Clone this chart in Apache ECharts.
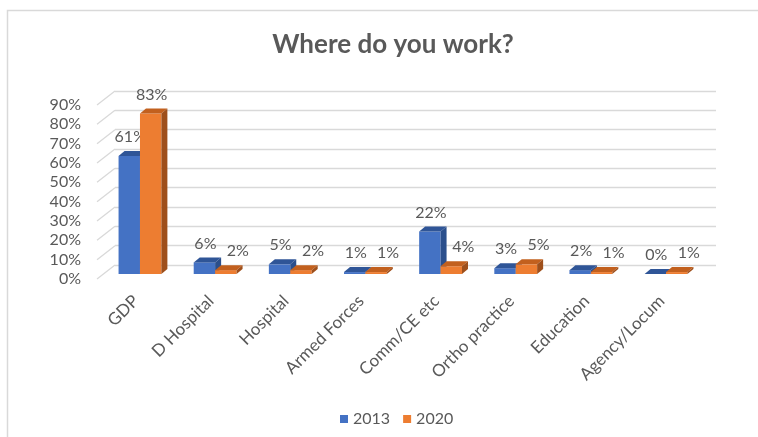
<!DOCTYPE html>
<html>
<head>
<meta charset="utf-8">
<script src="https://cdn.jsdelivr.net/npm/echarts@6/dist/echarts.min.js"></script>
<style>
  html, body { margin: 0; padding: 0; background: #fff; }
  #chart { width: 758px; height: 437px; }
</style>
</head>
<body>
<div id="chart"></div>
<script>
// Survey answers: share of respondents by place of work
const categories = ['GDP', 'D Hospital', 'Hospital', 'Armed Forces', 'Comm/CE etc', 'Ortho practice', 'Education', 'Agency/Locum'];
const values2013 = [61, 6, 5, 1, 22, 3, 2, 0];
const values2020 = [83, 2, 2, 1, 4, 5, 1, 1];
const yTicks = [0, 10, 20, 30, 40, 50, 60, 70, 80, 90];
const seriesNames = ['2013', '2020'];

const FONT = 'Lato, "Open Sans", sans-serif';
const TEXT = '#595959';
const GRID_LINE = '#d9d9d9';

// Face colours for the pseudo-3D columns: front, top, side
const palette = [
  { front: '#4472C4', top: '#2F5597', side: '#2B4F8C' },
  { front: '#ED7D31', top: '#C2601E', side: '#9E4F1B' }
];

// Depth of each column (top / side faces) and of the wall (front to back)
const COL_DX = 6, COL_DY = -5;
const WALL_DX = 18, WALL_DY = -14;

function columnRenderer(seriesIdx) {
  return function (params, api) {
    const cat = api.value(0);
    const v = api.value(1);
    const base = api.coord([cat, 0]);
    const top = api.coord([cat, v]);
    const catW = api.size([1, 0])[0];
    const barW = catW * 0.285;
    const l = base[0] - barW + seriesIdx * barW;
    const r = l + barW;
    const yb = base[1];
    const yt = top[1];
    const c = palette[seriesIdx];

    // 2020 labels step aside unless the 2020 column clearly towers over 2013
    let labelShift = 1;
    if (seriesIdx === 1 && !(values2020[cat] - values2013[cat] > 15)) labelShift = 12;

    return {
      type: 'group',
      children: [
        { type: 'rect', shape: { x: l, y: yt, width: barW, height: yb - yt }, style: { fill: c.front } },
        { type: 'polygon', shape: { points: [[l, yt], [l + COL_DX, yt + COL_DY], [r + COL_DX, yt + COL_DY], [r, yt]] }, style: { fill: c.top } },
        { type: 'polygon', shape: { points: [[r, yt], [r + COL_DX, yt + COL_DY], [r + COL_DX, yb + COL_DY], [r, yb]] }, style: { fill: c.side } },
        { type: 'text', style: {
            text: v + '%', x: (l + r) / 2 + labelShift, y: yt - 19,
            align: 'center', verticalAlign: 'middle',
            fill: TEXT, font: '16px ' + FONT
          } }
      ]
    };
  };
}

const chart = echarts.init(document.getElementById('chart'), null, { renderer: 'canvas' });

chart.setOption({
  backgroundColor: '#ffffff',
  animation: false,
  textStyle: { fontFamily: FONT },
  title: {
    text: 'Where do you work?',
    left: 388, top: 27, textAlign: 'center',
    textStyle: { fontFamily: FONT, fontSize: 26, fontWeight: 'bold', color: TEXT }
  },
  legend: {
    data: seriesNames,
    left: 335, top: 406,
    itemWidth: 8, itemHeight: 8, itemGap: 13,
    icon: 'rect',
    textStyle: { fontFamily: FONT, fontSize: 16, color: TEXT }
  },
  graphic: [{
    type: 'rect', silent: true,
    shape: { x: 7.5, y: 10.5, width: 900, height: 600 },
    style: { fill: 'none', stroke: GRID_LINE, lineWidth: 1.5 }
  }],
  grid: [
    // back wall with the gridlines
    { left: 115, right: 42, top: 91, bottom: 172 },
    // front edge carrying the percentage labels
    { left: 97, width: 18, top: 105, bottom: 158 },
    // plane in which the columns stand
    { left: 102.4, right: 54.4, top: 100, bottom: 163 }
  ],
  xAxis: [
    { gridIndex: 0, type: 'category', data: categories, show: false },
    { gridIndex: 1, type: 'value', min: 0, max: 1, show: false },
    {
      gridIndex: 2, type: 'category', data: categories,
      axisLine: { show: false }, axisTick: { show: false },
      axisLabel: { rotate: 45, margin: 20, padding: [0, 6, 0, 0], fontFamily: FONT, fontSize: 17, color: TEXT, interval: 0 }
    }
  ],
  yAxis: [
    {
      gridIndex: 0, type: 'value', min: 0, max: 90, interval: 10,
      axisLine: { show: false }, axisTick: { show: false }, axisLabel: { show: false },
      splitLine: { show: true, lineStyle: { color: GRID_LINE, width: 1.3 } }
    },
    {
      gridIndex: 1, type: 'value', min: 0, max: 90, interval: 10,
      axisLine: { show: false }, axisTick: { show: false }, splitLine: { show: false },
      axisLabel: { margin: 16, formatter: '{value}%', fontFamily: FONT, fontSize: 16, color: TEXT }
    },
    { gridIndex: 2, type: 'value', min: 0, max: 90, show: false }
  ],
  series: [
    {
      // side-wall lines joining each front label to its back gridline
      type: 'custom', xAxisIndex: 1, yAxisIndex: 1, silent: true, z: 1,
      data: yTicks.map(t => [0, t]),
      encode: { x: 0, y: 1 },
      renderItem: function (params, api) {
        const p = api.coord([0, api.value(1)]);
        return {
          type: 'line',
          shape: { x1: p[0], y1: p[1], x2: p[0] + WALL_DX, y2: p[1] + WALL_DY },
          style: { stroke: GRID_LINE, lineWidth: 1.3 }
        };
      }
    },
    {
      name: seriesNames[0], type: 'custom', xAxisIndex: 2, yAxisIndex: 2,
      itemStyle: { color: palette[0].front },
      data: values2013.map((v, i) => [i, v]),
      encode: { x: 0, y: 1 },
      renderItem: columnRenderer(0)
    },
    {
      name: seriesNames[1], type: 'custom', xAxisIndex: 2, yAxisIndex: 2,
      itemStyle: { color: palette[1].front },
      data: values2020.map((v, i) => [i, v]),
      encode: { x: 0, y: 1 },
      renderItem: columnRenderer(1)
    }
  ]
});
</script>
</body>
</html>
